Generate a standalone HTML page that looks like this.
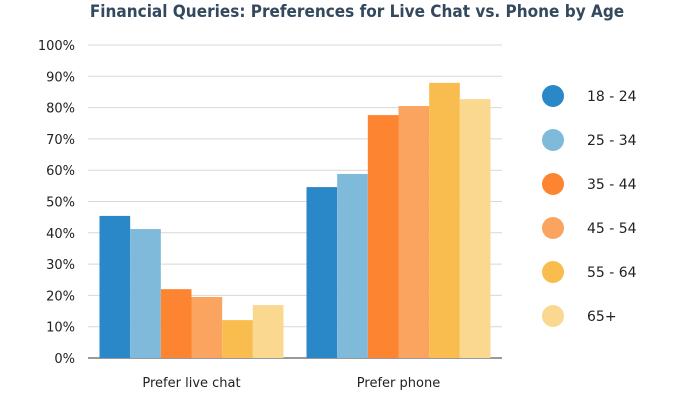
<!DOCTYPE html>
<html><head><meta charset="utf-8"><style>
body{margin:0;background:#fff;width:682px;height:405px;overflow:hidden;font-family:"DejaVu Sans","Liberation Sans",sans-serif;}
</style></head><body>
<svg id="chart" width="682" height="405" xmlns="http://www.w3.org/2000/svg">
<text x="357" y="17" text-anchor="middle" font-family="DejaVu Sans Condensed, DejaVu Sans, sans-serif" font-weight="bold" font-size="17" fill="#34495e">Financial Queries: Preferences for Live Chat vs. Phone by Age</text>
<g id="grid"></g><g id="bars"></g><g id="legend"></g>
</svg>
<script>
const categories = ["Prefer live chat", "Prefer phone"];
const seriesNames = ["18 - 24", "25 - 34", "35 - 44", "45 - 54", "55 - 64", "65+"];
const chatValues = [45.4, 41.2, 22, 19.5, 12.1, 16.9];
const phoneValues = [54.6, 58.8, 77.6, 80.5, 87.9, 82.7];
const tickLabels = ["0%","10%","20%","30%","40%","50%","60%","70%","80%","90%","100%"];
const colors = ["#2a88c8","#7fbadb","#fd8532","#fba45f","#f8bd4e","#fad88f"];
const NS="http://www.w3.org/2000/svg";
const x0=88,x1=502,y0=358,yTop=45;
const y=v=>y0-(v/100)*(y0-yTop);
function mk(t,a,p){const e=document.createElementNS(NS,t);for(const k in a)e.setAttribute(k,a[k]);p.appendChild(e);return e;}
const grid=document.getElementById('grid');
tickLabels.forEach((l,i)=>{const v=i*10;
 const ln=mk('line',{x1:x0,x2:x1,y1:y(v),y2:y(v),stroke:i===0?'#333':'#d8d8d8','stroke-width':1},grid);
 
 
 const t=mk('text',{x:75,y:y(v)+5,'text-anchor':'end','font-size':13,fill:'#222'},grid);t.textContent=l;
 
 
});
const bars=document.getElementById('bars');
const data=[chatValues,phoneValues];
const gw=(x1-x0)/categories.length, pad=11.5, bw=(gw-2*pad)/seriesNames.length;
categories.forEach((c,gi)=>{
 data[gi].forEach((v,si)=>{
  const r=mk('rect',{x:x0+gi*gw+pad+si*bw,y:y(v),width:bw,height:y0-y(v),fill:colors[si]},bars);
  
  
 });
 const t=mk('text',{x:x0+gi*gw+gw/2,y:387,'text-anchor':'middle','font-size':13,fill:'#222'},bars);t.textContent=c;
 
 
});
const lg=document.getElementById('legend');
seriesNames.forEach((n,i)=>{
 const g=mk('g',{},lg);
 
 
 mk('circle',{cx:553,cy:96+i*44,r:11,fill:colors[i]},g);
 const t=mk('text',{x:587,y:101+i*44,'font-size':14,fill:'#222'},g);t.textContent=n;
});
</script>
</body></html>
